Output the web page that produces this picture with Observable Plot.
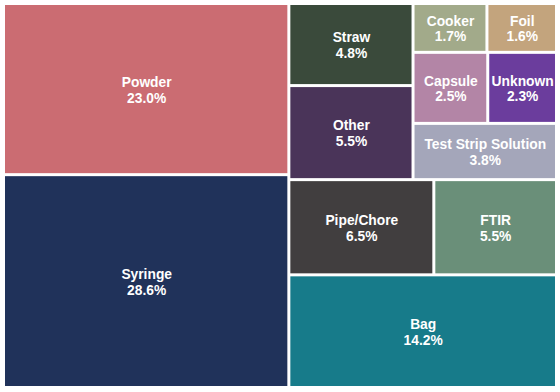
<!DOCTYPE html>
<html>
<head>
<meta charset="utf-8">
<script src="https://cdn.jsdelivr.net/npm/d3@7"></script>
<script src="https://cdn.jsdelivr.net/npm/@observablehq/plot@0.6"></script>
<style>
  html, body { margin: 0; padding: 0; background: #fff; }
</style>
</head>
<body>
<div id="chart"></div>
<script>
// Categories and their shares (percent), sorted descending as in the reference
const categories = ["Syringe", "Powder", "Bag", "Pipe/Chore", "FTIR", "Other", "Straw",
  "Test Strip Solution", "Capsule", "Unknown", "Cooker", "Foil"];
const shares = [28.6, 23.0, 14.2, 6.5, 5.5, 5.5, 4.8, 3.8, 2.5, 2.3, 1.7, 1.6];
const colors = ["#20325a", "#cb6c72", "#177b8a", "#413e3f", "#6a8f79", "#4a3459", "#3a4a3b",
  "#a4a6ba", "#b385a6", "#6b3d9d", "#a2aa8a", "#c3a47d"];

// Squarified treemap layout (same algorithm as Python's squarify), on a 100x100 square
function layoutRow(sizes, x, y, dx, dy) {
  const w = d3.sum(sizes) / dy; let cy = y;
  return sizes.map(s => { const r = {x, y: cy, dx: w, dy: s / w}; cy += s / w; return r; });
}
function layoutCol(sizes, x, y, dx, dy) {
  const h = d3.sum(sizes) / dx; let cx = x;
  return sizes.map(s => { const r = {x: cx, y, dx: s / h, dy: h}; cx += s / h; return r; });
}
function layout(sizes, x, y, dx, dy) {
  return dx >= dy ? layoutRow(sizes, x, y, dx, dy) : layoutCol(sizes, x, y, dx, dy);
}
function leftover(sizes, x, y, dx, dy) {
  const a = d3.sum(sizes);
  if (dx >= dy) { const w = a / dy; return [x + w, y, dx - w, dy]; }
  const h = a / dx; return [x, y + h, dx, dy - h];
}
function worst(sizes, x, y, dx, dy) {
  return d3.max(layout(sizes, x, y, dx, dy), r => Math.max(r.dx / r.dy, r.dy / r.dx));
}
function squarify(sizes, x, y, dx, dy) {
  if (!sizes.length) return [];
  if (sizes.length === 1) return layout(sizes, x, y, dx, dy);
  let i = 1;
  while (i < sizes.length && worst(sizes.slice(0, i), x, y, dx, dy) >= worst(sizes.slice(0, i + 1), x, y, dx, dy)) i++;
  const cur = sizes.slice(0, i), rest = sizes.slice(i);
  const [lx, ly, ldx, ldy] = leftover(cur, x, y, dx, dy);
  return layout(cur, x, y, dx, dy).concat(squarify(rest, lx, ly, ldx, ldy));
}

const total = d3.sum(shares);
const rects = squarify(shares.map(v => v * 100 * 100 / total), 0, 0, 100, 100);
const data = categories.map((name, i) => ({
  name, share: shares[i], color: colors[i],
  x1: rects[i].x, x2: rects[i].x + rects[i].dx,
  y1: rects[i].y, y2: rects[i].y + rects[i].dy
}));

const chart = Plot.plot({
  width: 560,
  height: 392,
  marginLeft: 3.5,
  marginRight: 3.5,
  marginTop: 3.5,
  marginBottom: 4.5,
  style: {background: "#fff"},
  x: {domain: [0, 100], axis: null},
  y: {domain: [0, 100], axis: null},
  marks: [
    Plot.rect(data, {x1: "x1", x2: "x2", y1: "y1", y2: "y2", fill: "color", inset: 1.5}),
    Plot.text(data, {
      x: d => (d.x1 + d.x2) / 2,
      y: d => (d.y1 + d.y2) / 2,
      text: d => `${d.name}\n${d.share.toFixed(1)}%`,
      fill: "white",
      fontWeight: "bold",
      fontSize: 13.8,
      fontFamily: "'Liberation Sans', Arial, sans-serif",
      lineHeight: 1.15
    })
  ]
});
document.getElementById("chart").appendChild(chart);
</script>
</body>
</html>
